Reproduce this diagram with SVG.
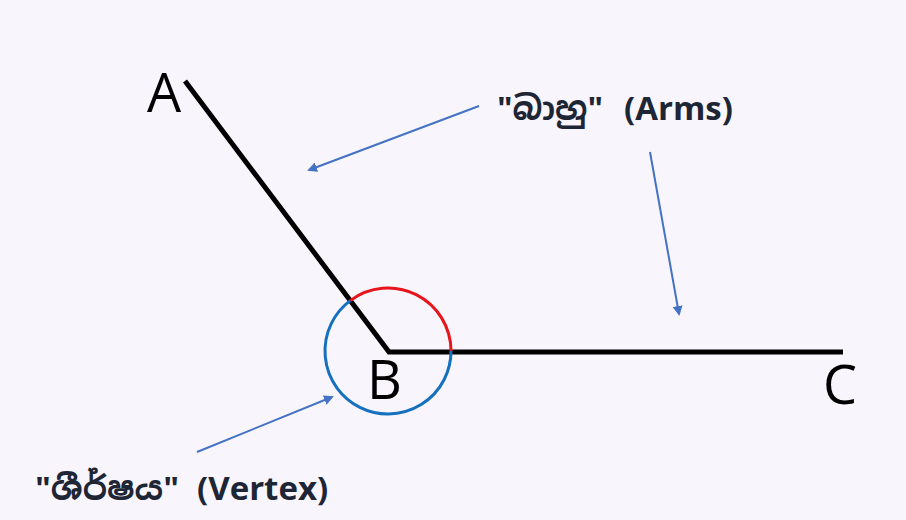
<svg xmlns="http://www.w3.org/2000/svg" width="906" height="520" viewBox="0 0 906 520">
<defs>
<style>
.pt{font-family:"Open Sans","Noto Sans","Liberation Sans",sans-serif;font-size:54px;fill:#000}
.lbl{font-family:"Open Sans","Noto Sans Sinhala","Noto Sans","Liberation Sans",sans-serif;font-size:33px;font-weight:bold;fill:#1E2636}
.arm{stroke:#000;stroke-width:5;fill:none}
.ar{stroke:#4472C4;stroke-width:2;fill:none;marker-end:url(#ah)}
</style>
<marker id="ah" viewBox="0 0 10 10" refX="8" refY="5" markerWidth="5" markerHeight="5" orient="auto">
<path d="M0,0 L10,5 L0,10 z" fill="#4472C4"/>
</marker>
</defs>
<rect width="906" height="520" fill="#F8F5FC"/>
<g id="angle">
<path class="arm" d="M185,81 L389,352 L843,352"/>
<path d="M350.2,300.6 A63,63 0 0 1 451,351" stroke="#E8141C" stroke-width="3" fill="none"/>
<path d="M451,351 A63,63 0 1 1 350.2,300.6" stroke="#1570BE" stroke-width="3" fill="none"/>
</g>
<g id="A"><text class="pt" x="147" y="112">A</text></g>
<g id="B"><text class="pt" x="367" y="399">B</text></g>
<g id="C"><text class="pt" x="823" y="404">C</text></g>
<g id="arms-label"><text class="lbl" y="120"><tspan x="497" textLength="106" lengthAdjust="spacingAndGlyphs">"බාහු"</tspan><tspan x="624">(Arms)</tspan></text></g>
<g id="vertex-label"><text class="lbl" y="500"><tspan x="35" textLength="144" lengthAdjust="spacingAndGlyphs">"ශීර්ෂය"</tspan><tspan x="197">(Vertex)</tspan></text></g>
<g id="connectors">
<line class="ar" x1="479" y1="106" x2="309" y2="170"/>
<line class="ar" x1="650" y1="152" x2="679" y2="314"/>
<line class="ar" x1="197" y1="452" x2="332" y2="397"/>
</g>
</svg>
